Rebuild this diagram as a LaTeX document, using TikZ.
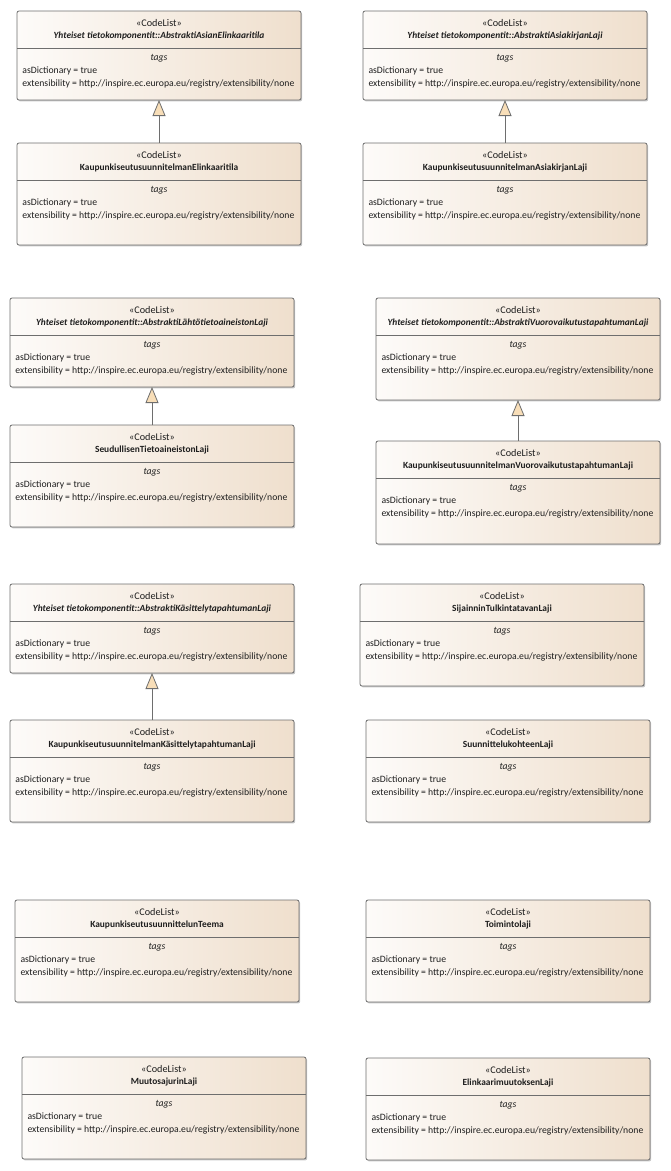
\documentclass[tikz,border=0pt]{standalone}
\usepackage{fontspec}
\setmainfont{Carlito}
\usetikzlibrary{arrows.meta,shadows}
\definecolor{boxline}{HTML}{6E6E6E}
\definecolor{boxleft}{HTML}{FDFBF9}
\definecolor{boxright}{HTML}{EFDFCD}
\definecolor{genfill}{HTML}{F8DEB8}
\definecolor{txtcol}{HTML}{1E1E1E}
\tikzset{
  clbox/.style={draw=boxline, line width=0.8pt, rounded corners=2pt,
    left color=boxleft, right color=boxright, minimum width=284pt,
    inner sep=0pt, outer sep=0pt, anchor=north west,
    drop shadow={shadow xshift=1.2pt, shadow yshift=-1.4pt, fill=black!45, opacity=0.5}},
  divline/.style={draw=boxline, line width=0.7pt},
  txt/.style={inner sep=0pt, outer sep=0pt, text=txtcol, font=\fontsize{9.7}{11}\selectfont},
  gen/.style={draw=boxline, line width=0.8pt, -{Triangle[length=16pt,width=13pt,fill=genfill]}}
}
% #1 name, #2 left, #3 top, #4 height, #5 title
\newcommand{\umlcl}[5]{%
  \node[clbox, minimum height=#4pt] (#1) at (#2,#3) {};
  \draw[divline] ([yshift=-37pt]#1.north west) -- ([yshift=-37pt]#1.north east);
  \node[txt,font=\fontsize{10.2}{11}\selectfont] (#1-st) at ([yshift=-11.5pt]#1.north) {«CodeList»};
  \node[txt] (#1-nm) at ([yshift=-24.5pt]#1.north) {#5};
  \node[txt,font=\fontsize{9.7}{11}\selectfont\itshape] (#1-tg) at ([yshift=-47.5pt]#1.north) {tags};
  \node[txt,anchor=west] (#1-ad) at ([xshift=5.5pt,yshift=-60pt]#1.north west) {asDictionary = true};
  \node[txt,anchor=west] (#1-ex) at ([xshift=5.5pt,yshift=-73pt]#1.north west) {extensibility = http://inspire.ec.europa.eu/registry/extensibility/none};
}
\newcommand{\abst}[1]{{\fontsize{9.4}{10}\selectfont\bfseries\itshape Yhteiset tietokomponentit::#1}}
\newcommand{\cn}[1]{{\fontsize{9.4}{10}\selectfont\bfseries #1}}
\begin{document}
\begin{tikzpicture}[x=1pt,y=-1pt]
\useasboundingbox (0,0) rectangle (670,1171);
\umlcl{a1}{17}{11}{89}{\abst{AbstraktiAsianElinkaaritila}}
\umlcl{b1}{17}{143}{102}{\cn{KaupunkiseutusuunnitelmanElinkaaritila}}
\umlcl{a2}{363}{11}{89}{\abst{AbstraktiAsiakirjanLaji}}
\umlcl{b2}{363}{143}{102}{\cn{KaupunkiseutusuunnitelmanAsiakirjanLaji}}
\umlcl{a3}{10}{298}{89}{\abst{AbstraktiLähtötietoaineistonLaji}}
\umlcl{b3}{10}{425}{102}{\cn{SeudullisenTietoaineistonLaji}}
\umlcl{a4}{376}{298}{102}{\abst{AbstraktiVuorovaikutustapahtumanLaji}}
\umlcl{b4}{376}{441}{103}{\cn{KaupunkiseutusuunnitelmanVuorovaikutustapahtumanLaji}}
\umlcl{a5}{10}{584}{89}{\abst{AbstraktiKäsittelytapahtumanLaji}}
\umlcl{b5}{10}{720}{102}{\cn{KaupunkiseutusuunnitelmanKäsittelytapahtumanLaji}}
\umlcl{c1}{360}{584}{102}{\cn{SijainninTulkintatavanLaji}}
\umlcl{c2}{366}{720}{102}{\cn{SuunnittelukohteenLaji}}
\umlcl{d1}{15}{900}{102}{\cn{KaupunkiseutusuunnittelunTeema}}
\umlcl{d2}{366}{900}{102}{\cn{Toimintolaji}}
\umlcl{e1}{22}{1057}{102}{\cn{MuutosajurinLaji}}
\umlcl{e2}{366}{1058}{102}{\cn{ElinkaarimuutoksenLaji}}
\draw[gen] (b1.north) -- (a1.south);
\draw[gen] (b2.north) -- (a2.south);
\draw[gen] (b3.north) -- (a3.south);
\draw[gen] (b4.north) -- (a4.south);
\draw[gen] (b5.north) -- (a5.south);
\end{tikzpicture}
\end{document}
